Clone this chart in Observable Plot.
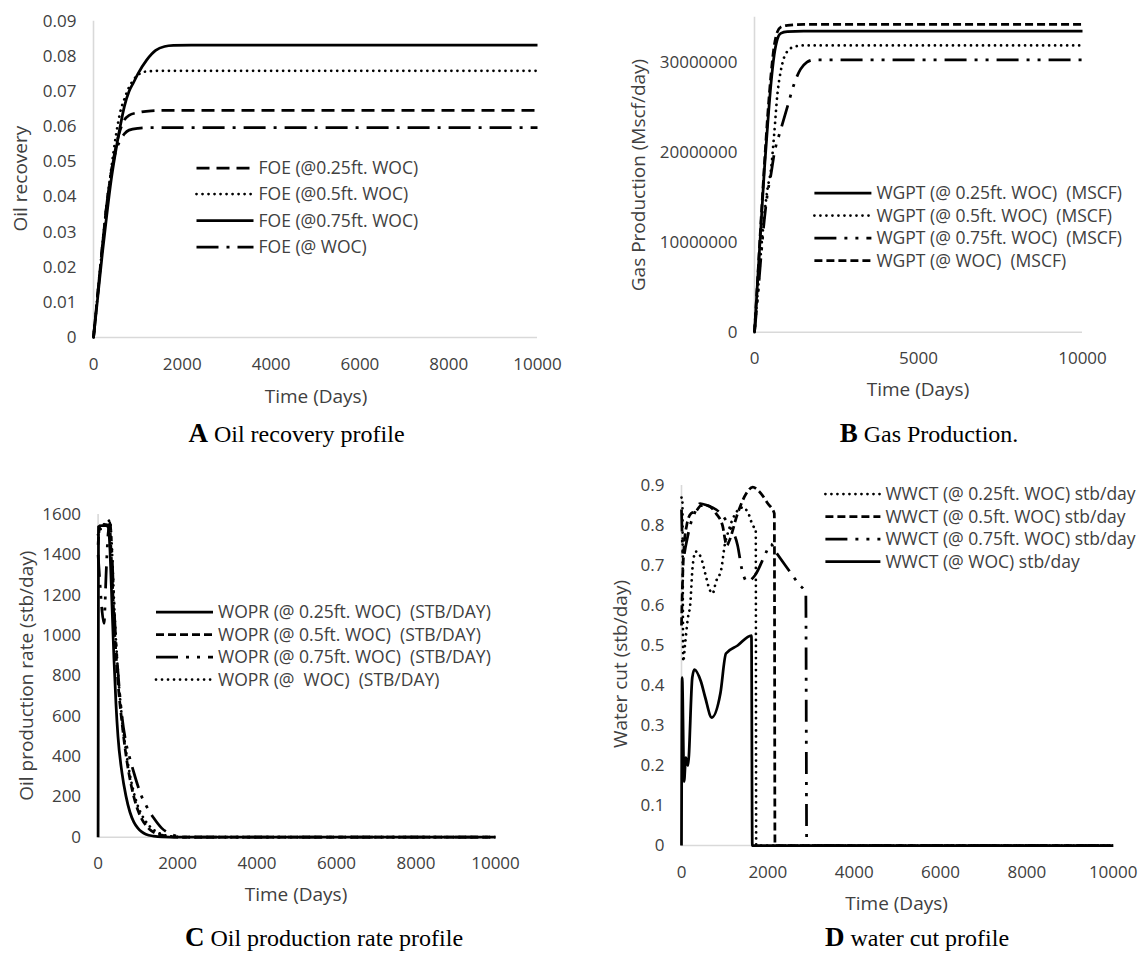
<!DOCTYPE html>
<html><head><meta charset="utf-8">
<script src="https://cdn.jsdelivr.net/npm/d3@7"></script>
<script src="https://cdn.jsdelivr.net/npm/@observablehq/plot@0.6"></script>
<style>
body{margin:0;background:#fff;}
#fig{position:relative;width:1148px;height:953px;overflow:hidden;background:#fff;}
#fig svg{position:absolute;}
</style></head><body><div id="fig"></div>
<script>
// ---------- tick values ----------
const xTicks2000 = [0, 2000, 4000, 6000, 8000, 10000];
const xTicks5000 = [0, 5000, 10000];
const yTicksA = [0, 0.01, 0.02, 0.03, 0.04, 0.05, 0.06, 0.07, 0.08, 0.09];
const yTicksB = [0, 10000000, 20000000, 30000000];
const yTicksC = [0, 200, 400, 600, 800, 1000, 1200, 1400, 1600];
const yTicksD = [0, 0.1, 0.2, 0.3, 0.4, 0.5, 0.6, 0.7, 0.8, 0.9];

// ---------- legend labels ----------
const namesA = ["FOE (@0.25ft. WOC)", "FOE (@0.5ft. WOC)", "FOE (@0.75ft. WOC)", "FOE (@ WOC)"];
const namesB = ["WGPT (@ 0.25ft. WOC)  (MSCF)", "WGPT (@ 0.5ft. WOC)  (MSCF)", "WGPT (@ 0.75ft. WOC)  (MSCF)", "WGPT (@ WOC)  (MSCF)"];
const namesC = ["WOPR (@ 0.25ft. WOC)  (STB/DAY)", "WOPR (@ 0.5ft. WOC)  (STB/DAY)", "WOPR (@ 0.75ft. WOC)  (STB/DAY)", "WOPR (@  WOC)  (STB/DAY)"];
const namesD = ["WWCT (@ 0.25ft. WOC) stb/day", "WWCT (@ 0.5ft. WOC) stb/day", "WWCT (@ 0.75ft. WOC) stb/day", "WWCT (@ WOC) stb/day"];

// ---------- A: oil recovery [day, value] ----------
const foe025 = [[0,0],[100,0.013],[200,0.026],[300,0.038],[400,0.047],[500,0.054],[600,0.059],[700,0.062],[800,0.0632],[1000,0.064],[1300,0.0645],[1600,0.0646],[10000,0.0646]];
const foe05  = [[0,0],[100,0.013],[200,0.026],[300,0.038],[400,0.048],[500,0.057],[600,0.064],[700,0.068],[800,0.0712],[900,0.0733],[1000,0.0747],[1200,0.0757],[1500,0.0759],[10000,0.0759]];
const foe075 = [[0,0],[100,0.012],[200,0.024],[300,0.035],[400,0.045],[500,0.053],[600,0.060],[700,0.066],[800,0.070],[900,0.0725],[1000,0.075],[1200,0.079],[1400,0.0817],[1600,0.0828],[1800,0.0831],[2200,0.0832],[10000,0.0832]];
const foeWOC = [[0,0],[100,0.013],[200,0.026],[300,0.038],[400,0.047],[500,0.053],[600,0.056],[700,0.058],[800,0.059],[1000,0.0595],[1300,0.0597],[10000,0.0597]];

// ---------- B: gas production ----------
const wgpt025 = [[0,0],[100,6e6],[200,12e6],[300,18e6],[400,23e6],[500,27.5e6],[600,30.8e6],[700,32.6e6],[800,33.2e6],[1000,33.4e6],[1500,33.46e6],[10000,33.46e6]];
const wgpt05  = [[0,0],[100,4.5e6],[200,9e6],[300,13e6],[400,16e6],[500,18e6],[600,22e6],[700,26.5e6],[800,29e6],[900,30.5e6],[1000,31.2e6],[1200,31.7e6],[1500,31.86e6],[10000,31.86e6]];
const wgpt075 = [[0,0],[100,4e6],[200,8.5e6],[300,12.5e6],[400,15.5e6],[500,17.5e6],[600,19.8e6],[800,22.5e6],[1000,25e6],[1200,27.5e6],[1400,29.2e6],[1600,30e6],[1800,30.26e6],[10000,30.26e6]];
const wgptWOC = [[0,0],[100,6.2e6],[200,12.5e6],[300,18.5e6],[400,24e6],[500,28.5e6],[600,31.8e6],[700,33.4e6],[800,33.9e6],[1000,34.1e6],[1500,34.2e6],[10000,34.2e6]];

// ---------- C: oil production rate ----------
const wopr025 = [[0,0],[10,1540],[100,1545],[200,1545],[260,1535],[300,1420],[350,1150],[400,880],[450,660],[500,500],[600,320],[700,205],[800,125],[900,75],[1000,45],[1100,26],[1200,15],[1400,5],[1600,1],[2000,0],[10000,0]];
const wopr05  = [[0,1450],[40,1540],[100,1550],[200,1550],[290,1540],[340,1350],[400,1080],[500,770],[600,570],[700,410],[800,290],[900,200],[1000,135],[1100,90],[1200,60],[1300,38],[1400,24],[1600,10],[1800,3],[2000,0],[10000,0]];
const wopr075 = [[0,1400],[50,1250],[100,1120],[150,1060],[200,1300],[250,1500],[300,1560],[350,1400],[400,1150],[500,820],[600,600],[700,470],[800,390],[900,320],[1000,255],[1100,200],[1200,160],[1300,125],[1400,95],[1600,45],[1800,18],[2000,5],[2200,0],[10000,0]];
const woprWOC = [[0,1500],[100,1540],[200,1560],[300,1570],[350,1420],[400,1170],[500,820],[600,590],[700,430],[800,310],[900,220],[1000,155],[1200,78],[1400,36],[1600,15],[1800,5],[2000,1],[2200,0],[10000,0]];

// ---------- D: water cut ----------
const wwct025 = [[0,0.87],[20,0.87],[40,0.46],[80,0.5],[150,0.57],[200,0.6],[260,0.7],[330,0.735],[450,0.72],[550,0.68],[650,0.64],[720,0.63],[800,0.66],[920,0.69],[1000,0.75],[1100,0.79],[1250,0.83],[1420,0.845],[1550,0.83],[1650,0.8],[1720,0.79],[1730,0],[10000,0]];
const wwct05  = [[0,0.55],[30,0.68],[60,0.75],[120,0.8],[220,0.83],[330,0.835],[450,0.85],[600,0.85],[800,0.83],[950,0.8],[1050,0.75],[1100,0.76],[1300,0.83],[1500,0.88],[1650,0.896],[1800,0.885],[2000,0.855],[2150,0.83],[2165,0],[10000,0]];
const wwct075 = [[0,0.84],[40,0.72],[100,0.75],[200,0.8],[300,0.83],[430,0.855],[600,0.85],[800,0.84],[910,0.83],[1100,0.8],[1300,0.75],[1400,0.69],[1520,0.66],[1700,0.675],[1960,0.733],[2060,0.754],[2210,0.73],[2540,0.68],[2710,0.654],[2880,0.63],[2900,0],[10000,0]];
const wwctWOC = [[0,0],[15,0.42],[60,0.16],[100,0.22],[150,0.2],[250,0.42],[300,0.44],[450,0.41],[550,0.37],[700,0.32],[900,0.38],[1030,0.48],[1300,0.5],[1620,0.525],[1640,0],[10000,0]];

// ---------- styles ----------
const ST = {
  solid: {dash: null, cap: "butt"},
  dot: {dash: "0.01,6", cap: "round"},
  dashL: {dash: "13,7", cap: "butt"},
  dashS: {dash: "8,4", cap: "butt"},
  dashDot: {dash: "22,8,3,8", cap: "butt"},
  dashDotDot: {dash: "22,8,3,8,3,8", cap: "butt"}
};
const LW = 2.75;

const panels = [
  {left:0, top:0, width:574, height:400, x0:93, x1:537, y0:20.7, y1:337,
   yDomain:[0,0.09], yTicks:yTicksA, yFmt:d=>d===0?"0":d.toFixed(2), xTicks:xTicks2000,
   series:[[foe025,ST.dashL],[foe05,ST.dot],[foe075,ST.solid],[foeWOC,ST.dashDot]], names:namesA,
   yTitle:"Oil recovery", yTitlePos:[20.3,178.6], xTitlePos:[316,396],
   legX:196.5, legW:57, legRows:[168,194,220.5,247],
   cap:["A"," Oil recovery profile"], capPos:[296.5,442]},
  {left:574, top:0, width:574, height:400, x0:754, x1:1082, y0:16.7, y1:331.7,
   yDomain:[0,35000000], yTicks:yTicksB, yFmt:d=>String(d), xTicks:xTicks5000,
   series:[[wgpt025,ST.solid],[wgpt05,ST.dot],[wgpt075,ST.dashDotDot],[wgptWOC,ST.dashS]], names:namesB,
   yTitle:"Gas Production (Mscf/day)", yTitlePos:[638,175], xTitlePos:[918,389.3],
   legX:814.4, legW:57, legRows:[193,215.5,238,260.5],
   cap:["B"," Gas Production."], capPos:[929,442]},
  {left:0, top:440, width:574, height:440, x0:97.6, x1:495, y0:514, y1:836.7,
   yDomain:[0,1600], yTicks:yTicksC, yFmt:d=>String(d), xTicks:xTicks2000,
   series:[[wopr025,ST.solid],[wopr05,ST.dashS],[wopr075,ST.dashDotDot],[woprWOC,ST.dot]], names:namesC,
   yTitle:"Oil production rate (stb/day)", yTitlePos:[25.7,675.7], xTitlePos:[296,894],
   legX:156, legW:57, legRows:[612,634.5,657,679.5],
   cap:["C"," Oil production rate profile"], capPos:[324,946]},
  {left:574, top:440, width:574, height:440, x0:681, x1:1112.7, y0:485, y1:845,
   yDomain:[0,0.9], yTicks:yTicksD, yFmt:d=>d===0?"0":d.toFixed(1), xTicks:xTicks2000,
   series:[[wwct025,ST.dot],[wwct05,ST.dashS],[wwct075,ST.dashDotDot],[wwctWOC,ST.solid]], names:namesD,
   yTitle:"Water cut (stb/day)", yTitlePos:[620,664], xTitlePos:[896.6,903],
   legX:825.4, legW:55, legRows:[494,516.5,539,561.5],
   cap:["D"," water cut profile"], capPos:[917,946]}
];

const fig = document.getElementById("fig");
const FONT = '"Open Sans", sans-serif';

for (const p of panels) {
  const svg = Plot.plot({
    width: p.width, height: p.height,
    marginLeft: p.x0 - p.left, marginRight: p.left + p.width - p.x1,
    marginTop: p.y0 - p.top, marginBottom: p.top + p.height - p.y1,
    style: {fontFamily: FONT, fontSize: "17px", color: "#404040", background: "transparent", overflow: "visible"},
    x: {domain: [0, 10000], ticks: p.xTicks, tickFormat: d => String(d), tickSize: 0, tickPadding: 20, label: null},
    y: {domain: p.yDomain, ticks: p.yTicks, tickFormat: p.yFmt, tickSize: 0, tickPadding: 17, label: null},
    marks: [
      Plot.ruleX([0], {stroke: "#d9d9d9", strokeWidth: 1.6}),
      Plot.ruleY([0], {stroke: "#d9d9d9", strokeWidth: 1.6}),
      ...p.series.map(([data, st]) => Plot.line(data, {
        x: d => d[0], y: d => d[1], stroke: "#000", strokeWidth: LW,
        strokeDasharray: st.dash, strokeLinecap: st.cap, strokeLinejoin: "round", curve: "monotone-x"
      }))
    ]
  });
  svg.style.left = p.left + "px";
  svg.style.top = p.top + "px";
  fig.appendChild(svg);
}

// ---------- overlay: titles, legends, captions ----------
const ov = d3.select(fig).append("svg")
  .attr("width", 1148).attr("height", 953)
  .style("left", "0px").style("top", "0px").style("pointer-events", "none");

for (const p of panels) {
  ov.append("text").attr("x", p.xTitlePos[0]).attr("y", p.xTitlePos[1]).attr("dy", "0.36em")
    .attr("text-anchor", "middle").attr("font-family", FONT).attr("font-size", 19).attr("fill", "#404040")
    .text("Time (Days)");
  ov.append("text").attr("transform", `translate(${p.yTitlePos[0]},${p.yTitlePos[1]}) rotate(-90)`).attr("dy", "0.36em")
    .attr("text-anchor", "middle").attr("font-family", FONT).attr("font-size", 19).attr("fill", "#404040")
    .text(p.yTitle);
  p.names.forEach((name, i) => {
    const st = p.series[i][1];
    const yy = p.legRows[i];
    ov.append("line").attr("x1", p.legX).attr("x2", p.legX + p.legW).attr("y1", yy).attr("y2", yy)
      .attr("stroke", "#000").attr("stroke-width", LW)
      .attr("stroke-dasharray", st.dash).attr("stroke-linecap", st.cap);
    ov.append("text").attr("x", p.legX + p.legW + 5).attr("y", yy).attr("dy", "0.36em")
      .attr("font-family", FONT).attr("font-size", 17.5).attr("fill", "#404040")
      .attr("xml:space", "preserve").style("white-space", "pre")
      .text(name);
  });
  const c = ov.append("text").attr("x", p.capPos[0]).attr("y", p.capPos[1]).attr("text-anchor", "middle")
    .attr("font-family", '"Liberation Serif", "Times New Roman", serif').attr("fill", "#000")
    .attr("xml:space", "preserve").style("white-space", "pre");
  c.append("tspan").attr("font-weight", "bold").attr("font-size", 27).text(p.cap[0]);
  c.append("tspan").attr("font-size", 24).text(p.cap[1]);
}
</script></body></html>
